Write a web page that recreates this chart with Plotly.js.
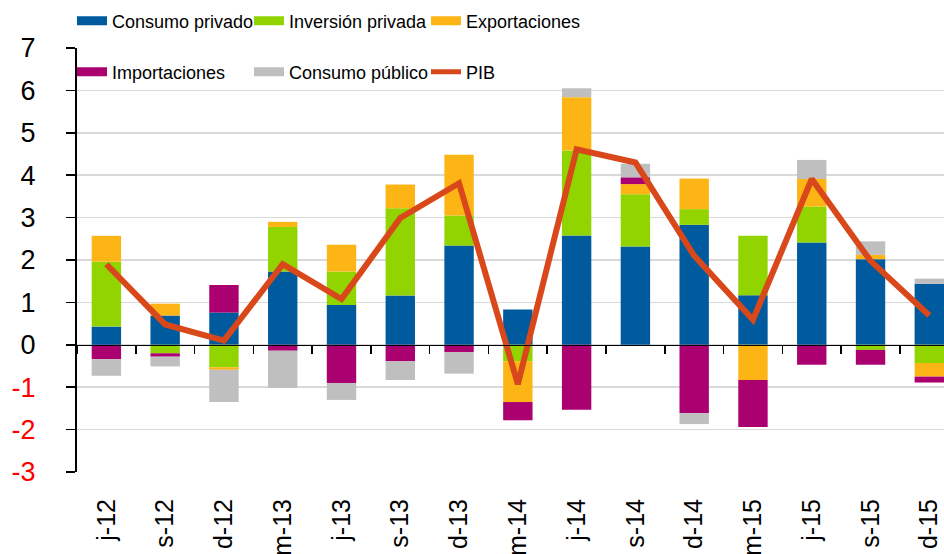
<!DOCTYPE html>
<html>
<head>
<meta charset="utf-8">
<script src="https://cdn.plot.ly/plotly-3.0.1.min.js"></script>
<style>
  html, body { margin: 0; padding: 0; background: #fff; }
  #chart { width: 944px; height: 554px; }
</style>
</head>
<body>
<div id="chart"></div>
<script>
// quarters and contributions (pp)
var quarters = ['j-12', 's-12', 'd-12', 'm-13', 'j-13', 's-13', 'd-13', 'm-14', 'j-14', 's-14', 'd-14', 'm-15', 'j-15', 's-15', 'd-15'];
var consumoPrivado = [0.43, 0.69, 0.76, 1.73, 0.94, 1.16, 2.34, 0.83, 2.58, 2.32, 2.83, 1.17, 2.41, 2.02, 1.44];
var inversionPrivada = [1.53, -0.20, -0.53, 1.05, 0.79, 2.06, 0.71, -0.39, 2.00, 1.23, 0.37, 1.40, 0.85, -0.12, -0.43];
var exportaciones = [0.61, 0.28, -0.06, 0.12, 0.63, 0.56, 1.43, -0.96, 1.26, 0.24, 0.72, -0.83, 0.65, 0.10, -0.32];
var importaciones = [-0.34, -0.08, 0.65, -0.14, -0.90, -0.39, -0.17, -0.43, -1.53, 0.16, -1.61, -1.11, -0.47, -0.35, -0.14];
var consumoPublico = [-0.39, -0.23, -0.76, -0.88, -0.40, -0.44, -0.51, 0, 0.21, 0.32, -0.26, 0, 0.45, 0.32, 0.12];
var pib = [1.9, 0.48, 0.1, 1.9, 1.08, 2.99, 3.81, -0.93, 4.61, 4.3, 2.1, 0.59, 3.91, 1.98, 0.69];

var yTicks = [-3, -2, -1, 0, 1, 2, 3, 4, 5, 6, 7];

var colors = {
    consumo: '#005a9e',
    inversion: '#92d400',
    export: '#fdb515',
    import: '#ab0070',
    publico: '#bfbfbf',
    pib: '#d9481a'
};

var series = [
    { name: 'Consumo privado', y: consumoPrivado, color: colors.consumo, legend: 'legend' },
    { name: 'Inversión privada', y: inversionPrivada, color: colors.inversion, legend: 'legend' },
    { name: 'Exportaciones', y: exportaciones, color: colors.export, legend: 'legend' },
    { name: 'Importaciones', y: importaciones, color: colors.import, legend: 'legend2' },
    { name: 'Consumo público', y: consumoPublico, color: colors.publico, legend: 'legend2' }
];

var traces = [];
series.forEach(function (s) {
    traces.push({
        type: 'bar',
        x: quarters,
        y: s.y,
        name: s.name,
        marker: { color: s.color, line: { width: 0 } },
        showlegend: false,
        hoverinfo: 'x+y+name'
    });
});

// PIB on the overlay axis that sits on the zero line
traces.push({
    type: 'scatter',
    mode: 'lines',
    x: quarters,
    y: pib,
    name: 'PIB',
    xaxis: 'x2',
    yaxis: 'y',
    line: { color: colors.pib, width: 6 },
    showlegend: false
});

// legend entries (wide flat swatches like the original), no visible points
series.forEach(function (s) {
    traces.push({
        type: 'scatter', mode: 'lines', x: [quarters[0]], y: [null],
        name: s.name, legend: s.legend, showlegend: true,
        line: { color: s.color, width: 9 }
    });
});
traces.push({
    type: 'scatter', mode: 'lines', x: [quarters[0]], y: [null],
    name: 'PIB', legend: 'legend2', showlegend: true,
    line: { color: colors.pib, width: 5 }
});

var yText = yTicks.map(function (v) {
    return v < 0 ? '<span style="color:#ff0000">' + v + '</span>' : String(v);
});

var legendFont = { family: 'Liberation Sans, Arial, sans-serif', size: 18, color: '#000' };

var layout = {
    width: 944,
    height: 554,
    barmode: 'relative',
    bargap: 0.5,
    showlegend: true,
    margin: { l: 77, r: 0, t: 48, b: 82, pad: 0, autoexpand: false },
    paper_bgcolor: '#fff',
    plot_bgcolor: '#fff',
    font: { family: 'Liberation Sans, Arial, sans-serif', color: '#000' },
    xaxis: {
        type: 'category',
        range: [-0.5, 14.25],
        showline: false,
        ticks: '',
        showgrid: false,
        zeroline: false,
        tickangle: -90,
        ticklabelstandoff: 21,
        tickfont: { size: 25, family: 'Liberation Sans, Arial, sans-serif' }
    },
    xaxis2: {
        type: 'category',
        matches: 'x',
        overlaying: 'x',
        anchor: 'free',
        position: 0.3,
        showline: true,
        linecolor: '#000',
        linewidth: 1.5,
        ticks: 'outside',
        tickson: 'boundaries',
        ticklen: 8,
        tickwidth: 1.5,
        tickcolor: '#000',
        showticklabels: false,
        showgrid: false,
        zeroline: false
    },
    yaxis: {
        range: [-3, 7],
        tickvals: yTicks,
        ticktext: yText,
        showline: true,
        linecolor: '#000',
        linewidth: 2,
        ticks: 'outside',
        ticklen: 9,
        tickwidth: 1.5,
        tickcolor: '#000',
        showgrid: true,
        gridcolor: '#d9d9d9',
        gridwidth: 1.5,
        zeroline: false,
        ticklabelstandoff: 25,
        tickfont: { size: 27, family: 'Liberation Sans, Arial, sans-serif' }
    },
    legend: {
        orientation: 'h',
        xref: 'container', yref: 'container',
        x: 72 / 944, y: 1 - 21 / 554,
        xanchor: 'left', yanchor: 'middle',
        entrywidth: 132,
        entrywidthmode: 'pixels',
        bgcolor: 'rgba(0,0,0,0)',
        borderwidth: 0,
        font: legendFont,
        itemclick: false, itemdoubleclick: false
    },
    legend2: {
        orientation: 'h',
        xref: 'container', yref: 'container',
        x: 72 / 944, y: 1 - 72 / 554,
        xanchor: 'left', yanchor: 'middle',
        entrywidth: 132,
        entrywidthmode: 'pixels',
        bgcolor: 'rgba(0,0,0,0)',
        borderwidth: 0,
        font: legendFont,
        itemclick: false, itemdoubleclick: false
    }
};

Plotly.newPlot('chart', traces, layout, { displayModeBar: false, staticPlot: true });
</script>
</body>
</html>
